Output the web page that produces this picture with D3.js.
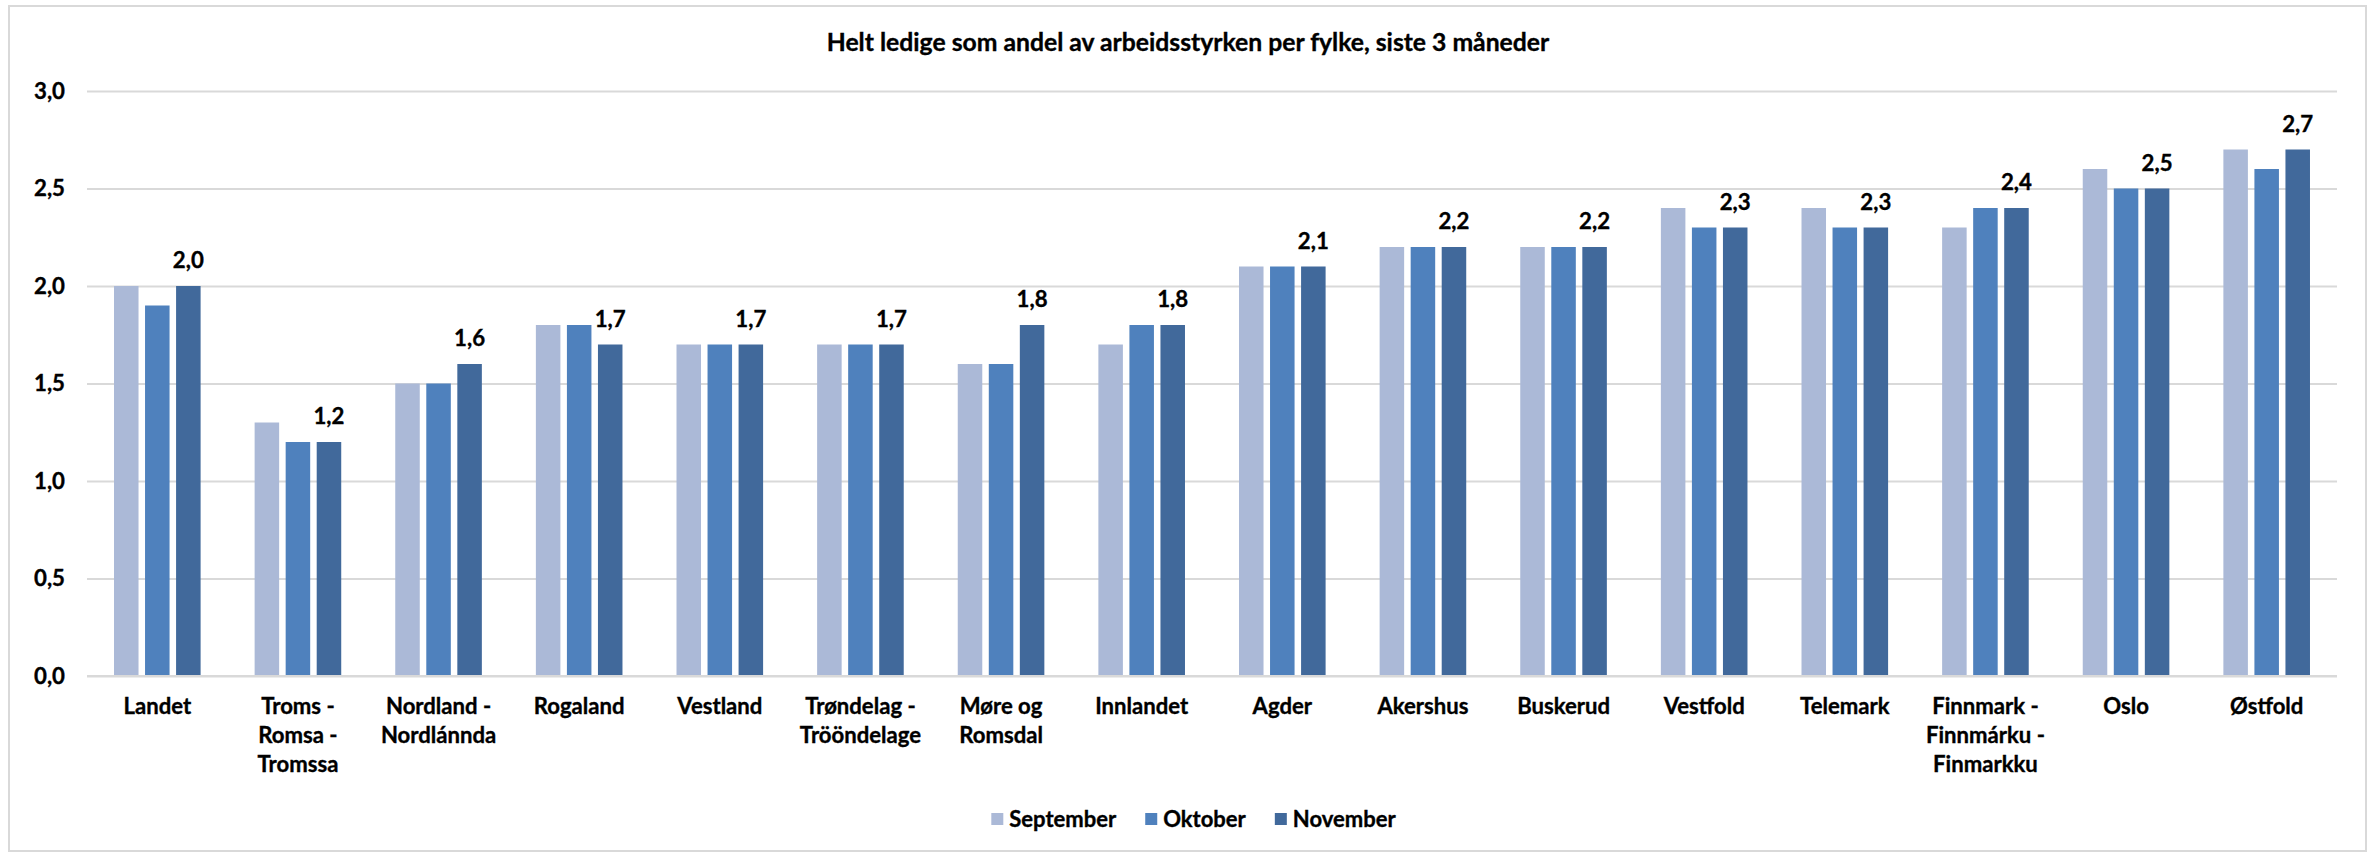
<!DOCTYPE html>
<html>
<head>
<meta charset="utf-8">
<script src="https://cdn.jsdelivr.net/npm/d3@7"></script>
<style>
  html, body { margin: 0; padding: 0; background: #ffffff; }
  svg { display: block; }
  text { font-family: Lato, "Open Sans", sans-serif; font-weight: bold; fill: #000000;
         stroke: #000000; stroke-width: 0.35px; }
</style>
</head>
<body>
<script>
const title = "Helt ledige som andel av arbeidsstyrken per fylke, siste 3 måneder";
const categories = [
  "Landet",
  "Troms -\nRomsa -\nTromssa",
  "Nordland -\nNordlánnda",
  "Rogaland",
  "Vestland",
  "Trøndelag -\nTrööndelage",
  "Møre og\nRomsdal",
  "Innlandet",
  "Agder",
  "Akershus",
  "Buskerud",
  "Vestfold",
  "Telemark",
  "Finnmark -\nFinnmárku -\nFinmarkku",
  "Oslo",
  "Østfold"
];
const seriesNames = ["September", "Oktober", "November"];
const september = [2.0, 1.3, 1.5, 1.8, 1.7, 1.7, 1.6, 1.7, 2.1, 2.2, 2.2, 2.4, 2.4, 2.3, 2.6, 2.7];
const oktober   = [1.9, 1.2, 1.5, 1.8, 1.7, 1.7, 1.6, 1.8, 2.1, 2.2, 2.2, 2.3, 2.3, 2.4, 2.5, 2.6];
const november  = [2.0, 1.2, 1.6, 1.7, 1.7, 1.7, 1.8, 1.8, 2.1, 2.2, 2.2, 2.3, 2.3, 2.4, 2.5, 2.7];
const yTicks = [0, 0.5, 1.0, 1.5, 2.0, 2.5, 3.0];
const seriesColors = ["#abb9d7", "#4f81bd", "#41699b"];

const W = 2377, H = 853;
const plot = { left: 87, right: 2337, top: 91, bottom: 676 };
const fmt = v => d3.format(".1f")(v).replace(".", ",");

const svg = d3.select("body").append("svg").attr("width", W).attr("height", H);

// font sizes fitted so that reference strings take the widths seen in the chart
function fitSize(str, targetWidth) {
  const t = svg.append("text").style("font-size", "100px").text(str);
  const w = t.node().getComputedTextLength();
  t.remove();
  return 100 * targetWidth / w;
}
const titleSize = fitSize("Helt ledige som andel av", 268);
const labelSize = fitSize("Innlandet", 93);
const legendSize = fitSize("September", 107);
const valueSize = fitSize("2,0", 31);

// chart frame
svg.append("rect")
  .attr("x", 9).attr("y", 6).attr("width", 2357).attr("height", 845)
  .attr("fill", "#ffffff").attr("stroke", "#d9d9d9").attr("stroke-width", 2);

// title
svg.append("text")
  .attr("x", 1188).attr("y", 51)
  .attr("text-anchor", "middle")
  .style("font-size", titleSize + "px")
  .text(title);

const x0 = d3.scaleBand().domain(categories).range([plot.left, plot.right]).padding(0);
const x1 = d3.scaleBand().domain(seriesNames)
  .range([27, 27 + 86.6]).paddingInner(0.21).paddingOuter(0);
const y = d3.scaleLinear().domain([0, 3]).range([plot.bottom, plot.top]);

// gridlines + y tick labels
const yAxis = d3.axisLeft(y).tickValues(yTicks).tickSize(-(plot.right - plot.left)).tickFormat(fmt).tickPadding(22);
const gy = svg.append("g").attr("transform", `translate(${plot.left},0)`).call(yAxis);
gy.select(".domain").remove();
gy.selectAll(".tick line").attr("stroke", "#d9d9d9").attr("stroke-width", 2);
gy.selectAll(".tick text")
  .style("font-size", valueSize + "px")
  .style("font-family", "Lato, sans-serif")
  .style("font-weight", "bold")
  .attr("fill", "#000");

const table = categories.map((c, i) => ({
  cat: c,
  vals: [september[i], oktober[i], november[i]]
}));

const groups = svg.append("g").selectAll("g.grp")
  .data(table).join("g")
  .attr("class", "grp")
  .attr("transform", d => `translate(${x0(d.cat)},0)`);

groups.selectAll("rect")
  .data(d => d.vals.map((v, k) => ({ name: seriesNames[k], v, k })))
  .join("rect")
  .attr("x", d => x1(d.name))
  .attr("width", x1.bandwidth())
  .attr("y", d => y(d.v))
  .attr("height", d => y(0) - y(d.v))
  .attr("fill", d => seriesColors[d.k]);

// data labels (November only)
groups.append("text")
  .attr("x", x1("November") + x1.bandwidth() / 2)
  .attr("y", d => y(d.vals[2]) - 18)
  .attr("text-anchor", "middle")
  .style("font-size", valueSize + "px")
  .text(d => fmt(d.vals[2]));

// baseline
svg.append("line")
  .attr("x1", plot.left).attr("x2", plot.right)
  .attr("y1", y(0)).attr("y2", y(0))
  .attr("stroke", "#d9d9d9").attr("stroke-width", 2);

// x axis labels
const xAxis = d3.axisBottom(x0).tickSize(0).tickFormat("");
const gx = svg.append("g").attr("transform", `translate(0,${y(0)})`).call(xAxis);
gx.select(".domain").remove();
gx.selectAll(".tick").each(function(d) {
  const t = d3.select(this).append("text")
    .attr("text-anchor", "middle")
    .style("font-size", labelSize + "px")
    .style("font-family", "Lato, sans-serif")
    .style("font-weight", "bold")
    .attr("fill", "#000");
  d.split("\n").forEach((line, i) => {
    t.append("tspan").attr("x", 0).attr("y", 38 + i * 29).text(line);
  });
});

// legend
const legend = svg.append("g");
let lx = 0;
seriesNames.forEach((n, k) => {
  const g = legend.append("g").attr("transform", `translate(${lx},0)`);
  g.append("rect").attr("x", 0).attr("y", -14).attr("width", 12).attr("height", 12).attr("fill", seriesColors[k]);
  const t = g.append("text").attr("x", 18).attr("y", 0).style("font-size", legendSize + "px").text(n);
  const w = 18 + t.node().getComputedTextLength();
  lx += w + 29;
});
const legendWidth = lx - 29;
legend.attr("transform", `translate(${1193.5 - legendWidth / 2},827)`);
</script>
</body>
</html>
